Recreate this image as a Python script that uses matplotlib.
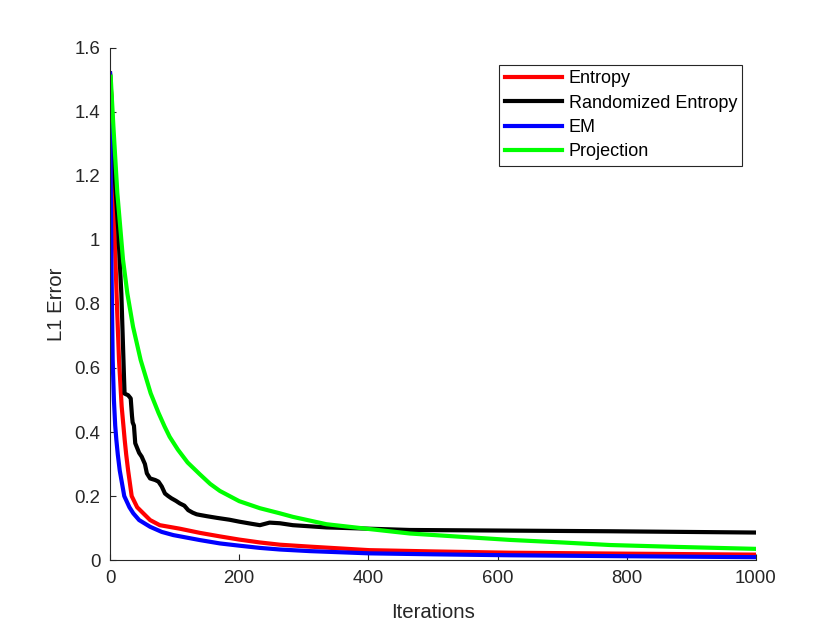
import matplotlib
matplotlib.use('Agg')
import matplotlib.pyplot as plt

plt.rcParams['font.family'] = ['Liberation Sans', 'DejaVu Sans']

# values (iteration, L1 error)
entropy_x = [0, 2, 4, 6, 8.3, 11, 13.9, 18, 22.7, 25, 28, 33.5, 42, 51.5, 62, 77, 108,
             139, 170, 200, 232, 263, 309, 401, 500, 618, 800, 1000]
entropy_y = [1.52, 1.45, 1.27, 1.1, 0.94, 0.78, 0.625, 0.48, 0.375, 0.33, 0.28, 0.2,
             0.165, 0.146, 0.125, 0.109, 0.098, 0.085, 0.074, 0.064, 0.055, 0.048, 0.042,
             0.031, 0.027, 0.023, 0.02, 0.017]

rand_x = [0, 3, 7.2, 12.4, 17.5, 21.6, 22.5, 28, 32, 34, 35, 37, 39, 45, 49, 54, 57, 62,
          70, 75, 80, 85, 90, 95, 102, 108, 115, 121, 128, 134, 139, 150, 165, 185, 200,
          220, 232, 247, 263, 283, 335, 401, 464, 618, 774, 1000]
rand_y = [1.52, 1.4, 1.2, 1.04, 0.833, 0.573, 0.52, 0.515, 0.505, 0.45, 0.43, 0.42,
          0.365, 0.335, 0.323, 0.3, 0.271, 0.255, 0.25, 0.245, 0.23, 0.208, 0.2, 0.193,
          0.185, 0.177, 0.17, 0.156, 0.148, 0.143, 0.141, 0.137, 0.132, 0.126, 0.12,
          0.113, 0.109, 0.117, 0.115, 0.109, 0.102, 0.098, 0.094, 0.092, 0.09, 0.086]

em_x = [0, 1, 2.1, 4.1, 6, 8, 9.8, 12, 15, 22, 30, 36, 45, 62, 80, 98, 139, 170, 200,
        232, 263, 309, 401, 500, 619, 800, 1000]
em_y = [1.52, 1.2, 0.94, 0.625, 0.5, 0.42, 0.375, 0.33, 0.28, 0.2, 0.165, 0.146, 0.125,
        0.104, 0.088, 0.078, 0.0625, 0.052, 0.045, 0.038, 0.033, 0.028, 0.021, 0.018,
        0.015, 0.012, 0.009]

proj_x = [1, 5.2, 11.3, 20.1, 26.8, 35.6, 47.4, 62.9, 75, 84.5, 92.3, 105, 120, 139,
          155, 170, 200, 232, 263, 283, 335, 401, 464, 541, 619, 700, 774, 880, 1000]
proj_y = [1.51, 1.354, 1.146, 0.938, 0.833, 0.729, 0.625, 0.521, 0.46, 0.417, 0.385,
          0.345, 0.305, 0.268, 0.238, 0.216, 0.184, 0.162, 0.146, 0.135, 0.112, 0.097,
          0.083, 0.073, 0.063, 0.055, 0.047, 0.041, 0.035]

fig = plt.figure(figsize=(8.4, 6.3), dpi=100)
ax = fig.add_axes([0.131, 0.111, 0.769, 0.813])

ax.plot(entropy_x, entropy_y, color='#ff0000', lw=3, label='Entropy')
ax.plot(rand_x, rand_y, color='#000000', lw=3, label='Randomized Entropy')
ax.plot(em_x, em_y, color='#0000ff', lw=3, label='EM')
ax.plot(proj_x, proj_y, color='#00ff00', lw=3, label='Projection')

ax.set_xlim(0, 1000)
ax.set_ylim(0, 1.6)
ax.set_xticks([0, 200, 400, 600, 800, 1000])
ax.set_yticks([0, 0.2, 0.4, 0.6, 0.8, 1.0, 1.2, 1.4, 1.6])
ax.set_yticklabels(['0', '0.2', '0.4', '0.6', '0.8', '1', '1.2', '1.4', '1.6'])

for s in ['top', 'right']:
    ax.spines[s].set_visible(False)
for s in ['left', 'bottom']:
    ax.spines[s].set_color('#262626')
    ax.spines[s].set_linewidth(0.8)
ax.tick_params(direction='in', length=4.5, width=0.8, colors='#262626',
               labelsize=13.4, pad=7)

ax.set_xlabel('Iterations', fontsize=14.7, color='#262626', labelpad=12)
ax.set_ylabel('L1 Error', fontsize=14.7, color='#262626', labelpad=6)

leg = ax.legend(loc='upper right', bbox_to_anchor=(0.979, 0.967), borderaxespad=0,
                fontsize=13, fancybox=False, framealpha=1, edgecolor='#262626',
                handlelength=3.2, handletextpad=0.35, labelspacing=0.41,
                borderpad=0.3)
leg.get_frame().set_linewidth(0.8)

fig.savefig('out.png', dpi=100)
